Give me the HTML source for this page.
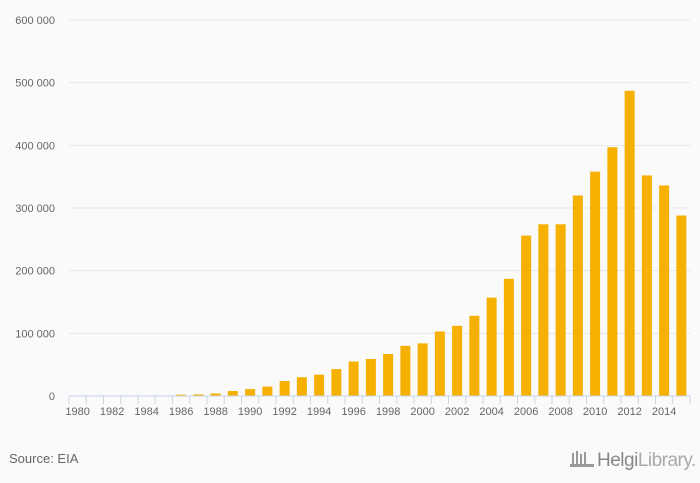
<!DOCTYPE html>
<html><head><meta charset="utf-8"><style>
body{margin:0;background:#fafafa;font-family:"Liberation Sans",sans-serif}
svg{display:block}
</style></head><body>
<svg width="700" height="483">
<rect width="700" height="483" fill="#fafafa"/>
<g id="grid"></g><g id="bars"></g><g id="axis"></g>
<text x="9" y="463" font-size="13" fill="#666">Source: EIA</text>
<g>
<g fill="#999"><rect x="572" y="453" width="2" height="13"/><rect x="576" y="451" width="2" height="15"/><rect x="580" y="454" width="2" height="12"/><rect x="584" y="452" width="2" height="14"/><rect x="570" y="464" width="24" height="3"/></g>
<text x="597" y="466" font-size="19" fill="#888" letter-spacing="-0.5">Helgi<tspan fill="#aaa">Library.</tspan></text>
</g>
</svg>
<script>
const years=[];for(let y=1980;y<=2015;y++)years.push(y);
const values=[0,0,0,0,0,0,2000,2500,4000,8000,11000,15000,24000,30000,34000,43000,55000,59000,67000,80000,84000,103000,112000,128000,157000,187000,256000,274000,274000,320000,358000,397000,487000,352000,336000,288000];
const yTicks=[0,100000,200000,300000,400000,500000,600000];
const yTickLabels=["0","100 000","200 000","300 000","400 000","500 000","600 000"];
const NS="http://www.w3.org/2000/svg";
const x0=69,x1=690,y0=396,yTop=20,yMax=600000;
const band=(x1-x0)/years.length;
const X=i=>x0+i*band, Y=v=>y0-(v/yMax)*(y0-yTop);
function mk(t,a,p){const e=document.createElementNS(NS,t);for(const k in a)e.setAttribute(k,a[k]);p.appendChild(e);return e;}
const grid=document.getElementById('grid'),bars=document.getElementById('bars'),axis=document.getElementById('axis');
yTicks.forEach((v,i)=>{
 if(i>0){const l=mk('line',{x1:x0,x2:x1,y1:Y(v),y2:Y(v),stroke:'#e6e6e6'},grid);
 
 }
 const t=mk('text',{x:55,y:Y(v)+4,'text-anchor':'end','font-size':'11',fill:'#666'},grid);t.textContent=yTickLabels[i];
 
 
});
values.forEach((v,i)=>{
 if(v<=0)return;
 const r=mk('rect',{x:X(i)+band/2-5,y:Y(v),width:10,height:y0-Y(v),fill:'#f5b000'},bars);
 
 
});
const al=mk('line',{x1:x0,x2:x1,y1:y0,y2:y0,stroke:'#c8d4e8'},axis);


for(let i=0;i<=years.length;i++){const tk=mk('line',{x1:X(i),x2:X(i),y1:y0,y2:y0+8,stroke:'#c8d4e8'},axis);
 
 }
years.forEach((y,i)=>{if(y%2)return;
 const t=mk('text',{x:X(i)+band/2,y:y0+19,'text-anchor':'middle','font-size':'11',fill:'#666'},axis);t.textContent=y;
 
 
});
</script>
</body></html>
